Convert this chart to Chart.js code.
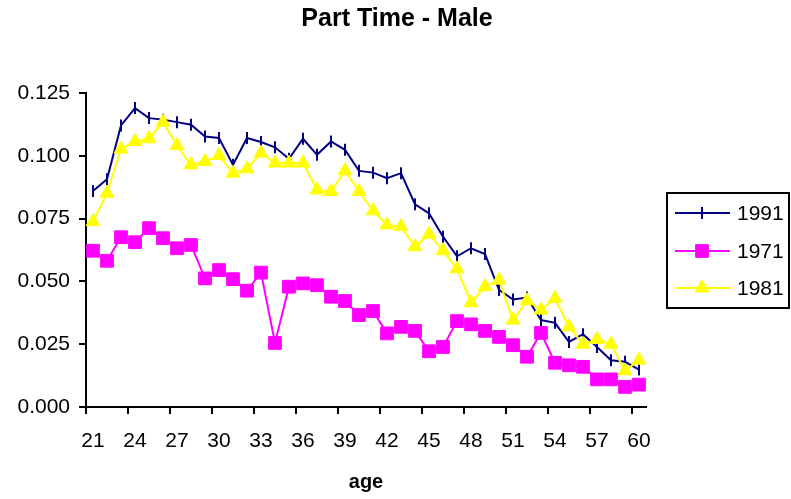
<!DOCTYPE html>
<html>
<head>
<meta charset="utf-8">
<script src="https://cdn.jsdelivr.net/npm/chart.js@4/dist/chart.umd.min.js"></script>
<style>
  html, body { margin: 0; padding: 0; background: #fff; }
  #wrap { width: 791px; height: 499px; position: relative; }
</style>
</head>
<body>
<div id="wrap"><canvas id="chart"></canvas></div>
<script>
const ages = [21, 22, 23, 24, 25, 26, 27, 28, 29, 30, 31, 32, 33, 34, 35, 36, 37, 38, 39, 40,
  41, 42, 43, 44, 45, 46, 47, 48, 49, 50, 51, 52, 53, 54, 55, 56, 57, 58, 59, 60];

const male1991 = [0.0860, 0.0907, 0.1121, 0.1190, 0.1150, 0.1144, 0.1134, 0.1124, 0.1077, 0.1071,
  0.0964, 0.1071, 0.1055, 0.1034, 0.0988, 0.1068, 0.1004, 0.1057, 0.1024, 0.0940,
  0.0933, 0.0911, 0.0931, 0.0807, 0.0771, 0.0678, 0.0600, 0.0632, 0.0609, 0.0466,
  0.0428, 0.0436, 0.0346, 0.0335, 0.0259, 0.0290, 0.0239, 0.0186, 0.0180, 0.0149];

const male1971 = [0.0622, 0.0582, 0.0676, 0.0656, 0.0712, 0.0672, 0.0632, 0.0645, 0.0512, 0.0545,
  0.0509, 0.0463, 0.0535, 0.0255, 0.0479, 0.0492, 0.0485, 0.0439, 0.0422, 0.0366,
  0.0382, 0.0293, 0.0319, 0.0303, 0.0222, 0.0239, 0.0342, 0.0329, 0.0303, 0.0279,
  0.0246, 0.0200, 0.0295, 0.0176, 0.0166, 0.0160, 0.0110, 0.0110, 0.0080, 0.0089];

const male1981 = [0.0738, 0.0851, 0.1027, 0.1057, 0.1068, 0.1134, 0.1041, 0.0964, 0.0977, 0.1001,
  0.0931, 0.0948, 0.1011, 0.0971, 0.0971, 0.0971, 0.0864, 0.0858, 0.0940, 0.0858,
  0.0781, 0.0725, 0.0718, 0.0638, 0.0688, 0.0622, 0.0550, 0.0415, 0.0479, 0.0505,
  0.0346, 0.0423, 0.0386, 0.0432, 0.0319, 0.0250, 0.0269, 0.0250, 0.0144, 0.0186];

const yTicks = [0, 0.025, 0.05, 0.075, 0.1, 0.125];

const FONT = 'Arial, "Liberation Sans", sans-serif';

// title, x tick marks and the boxed legend, Excel style
const excelDecor = {
  id: 'excelDecor',
  afterDraw(chart) {
    const ctx = chart.ctx;
    const xs = chart.scales.x;
    ctx.save();

    ctx.fillStyle = '#000';
    ctx.font = 'bold 25px ' + FONT;
    ctx.textAlign = 'center';
    ctx.textBaseline = 'middle';
    ctx.fillText('Part Time - Male', 397, 19);

    // tick marks on the category boundaries left of each labelled age
    const half = (xs.getPixelForValue(1) - xs.getPixelForValue(0)) / 2;
    ctx.strokeStyle = '#000';
    ctx.lineWidth = 2;
    ages.forEach((a, i) => {
      if (i % 3 !== 0) return;
      const x = Math.round(xs.getPixelForValue(i) - half);
      ctx.beginPath();
      ctx.moveTo(x, xs.top);
      ctx.lineTo(x, xs.top + 7);
      ctx.stroke();
    });

    const rows = [0, 1, 2];
    const rowY = [213, 251, 288];
    ctx.lineWidth = 2;
    ctx.strokeStyle = '#000';
    ctx.strokeRect(667, 193, 122, 115);
    rows.forEach((di, k) => {
      const ds = chart.data.datasets[di];
      const y = rowY[k];
      ctx.strokeStyle = ds.borderColor;
      ctx.lineWidth = 2;
      ctx.beginPath();
      ctx.moveTo(675, y);
      ctx.lineTo(730, y);
      ctx.stroke();
      ctx.fillStyle = ds.pointBackgroundColor;
      ctx.strokeStyle = ds.pointBorderColor;
      ctx.lineWidth = ds.pointBorderWidth;
      Chart.helpers.drawPoint(ctx, {
        pointStyle: ds.pointStyle,
        radius: ds.pointRadius,
        rotation: ds.pointRotation || 0,
        borderWidth: ds.pointBorderWidth
      }, 702, y);
      ctx.fillStyle = '#000';
      ctx.font = '21px ' + FONT;
      ctx.textBaseline = 'middle';
      ctx.textAlign = 'left';
      ctx.fillText(ds.label, 737, y + 1);
    });
    ctx.restore();
  }
};

new Chart(document.getElementById('chart'), {
  type: 'line',
  data: {
    labels: ages,
    datasets: [
      {
        label: '1991',
        data: male1991,
        borderColor: '#000080',
        borderWidth: 2,
        pointStyle: 'line',
        pointRotation: 90,
        pointRadius: 6,
        pointBorderColor: '#000080',
        pointBackgroundColor: '#000080',
        pointBorderWidth: 2,
        order: 2
      },
      {
        label: '1971',
        data: male1971,
        borderColor: '#FF00FF',
        borderWidth: 2,
        pointStyle: 'rect',
        pointRadius: 9,
        pointBorderColor: '#FF00FF',
        pointBackgroundColor: '#FF00FF',
        pointBorderWidth: 1,
        order: 1
      },
      {
        label: '1981',
        data: male1981,
        borderColor: '#FFFF00',
        borderWidth: 2,
        pointStyle: 'triangle',
        pointRadius: 8,
        pointBorderColor: '#FFFF00',
        pointBackgroundColor: '#FFFF00',
        pointBorderWidth: 1,
        order: 0
      }
    ]
  },
  options: {
    responsive: true,
    maintainAspectRatio: false,
    animation: false,
    layout: { padding: { left: 0, right: 145, top: 93, bottom: 0 } },
    plugins: {
      legend: { display: false },
      tooltip: { enabled: false },
      title: { display: false }
    },
    scales: {
      x: {
        type: 'category',
        offset: true,
        border: { display: true, color: '#000', width: 2 },
        grid: { display: false },
        afterFit: (scale) => { scale.height = 92; },
        ticks: {
          autoSkip: false,
          maxRotation: 0,
          padding: 14,
          color: '#000',
          font: { family: FONT, size: 21 },
          callback: function (value, index) {
            return index % 3 === 0 ? String(this.getLabelForValue(value)) : '';
          }
        },
        title: {
          display: true,
          text: 'age',
          color: '#000',
          font: { family: FONT, size: 20, weight: 'bold' },
          padding: { top: 10, bottom: 5 }
        }
      },
      y: {
        min: 0,
        max: 0.125,
        afterBuildTicks: (scale) => { scale.ticks = yTicks.map(v => ({ value: v })); },
        afterFit: (scale) => { scale.width = 86; },
        border: { color: '#000', width: 2 },
        grid: { drawOnChartArea: false, tickLength: 7, lineWidth: 2, color: '#000' },
        ticks: {
          padding: 9,
          color: '#000',
          font: { family: FONT, size: 21 },
          callback: (v) => Number(v).toFixed(3)
        }
      }
    }
  },
  plugins: [excelDecor]
});
</script>
</body>
</html>
